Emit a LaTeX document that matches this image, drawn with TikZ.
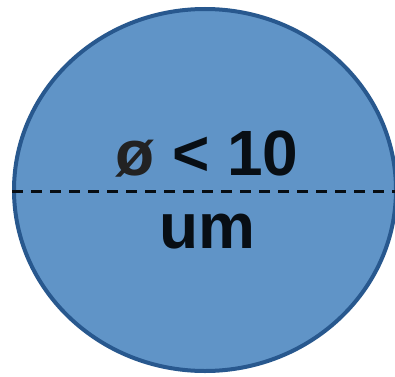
\documentclass[tikz,border=0pt]{standalone}
\usepackage{fontspec}
\setmainfont{Liberation Sans}
\usepackage{tikz}
\usetikzlibrary{shapes.geometric, positioning}
\definecolor{cellfill}{RGB}{96, 148, 199}
\definecolor{celledge}{RGB}{40, 88, 142}
\definecolor{labelink}{RGB}{8, 14, 20}
\definecolor{signink}{RGB}{34, 34, 34}

\tikzset{
  cellbody/.style={ellipse, draw=celledge, line width=4pt, fill=cellfill,
    minimum width=382pt, minimum height=362pt, inner sep=0pt},
  sizelabel/.style={font=\fontsize{64}{64}\selectfont\bfseries, text=labelink, inner sep=0pt},
  cutline/.style={dash pattern=on 11pt off 8pt, line width=3pt, labelink}
}

\begin{document}
\begin{tikzpicture}[x=1pt, y=1pt]
  \useasboundingbox (0,0) rectangle (395,376);

  % cell
  \node[cellbody] (cell) at (205,186) {};

  % diameter line
  \coordinate (cutend) at (396,185);
  \draw[cutline] (cell.west |- cutend) -- (cutend);

  % labels
  \node[sizelabel, anchor=base] (size) at (207,201) {\textcolor{signink}{ø} < 10};
  \node[sizelabel, anchor=base] (unit) at (207,128) {um};
\end{tikzpicture}
\end{document}
